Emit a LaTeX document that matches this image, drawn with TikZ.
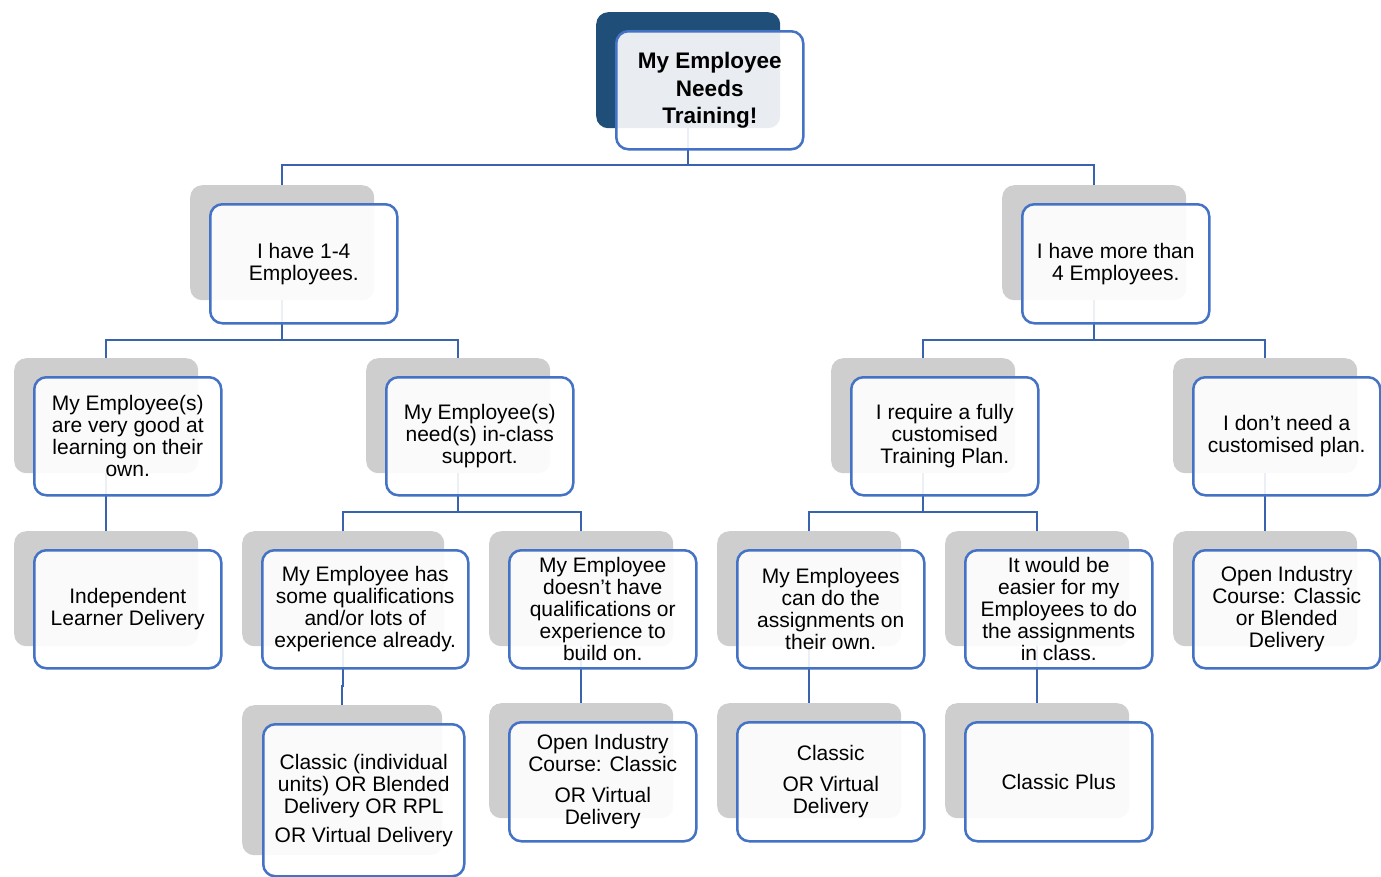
\documentclass[tikz,border=0pt]{standalone}
\usepackage{fontspec}
\setmainfont{Liberation Sans}
\definecolor{backgray}{HTML}{CFCECF}
\definecolor{rootblue}{HTML}{1F4E79}
\definecolor{frontblue}{HTML}{4472C4}
\definecolor{connblue}{HTML}{3A63AD}
\begin{document}
\begin{tikzpicture}[x=1pt,y=-1pt,
  backbox/.style={rounded corners=12pt, fill=backgray, draw=none, anchor=north west, inner sep=0pt},
  rootback/.style={backbox, fill=rootblue},
  frontbox/.style={rounded corners=12pt, draw=frontblue, line width=2.5pt, fill=white, fill opacity=0.9, text opacity=1, draw opacity=1, anchor=north west, inner sep=0pt, align=center, font=\fontsize{21}{22}\selectfont},
  rootfront/.style={frontbox, font=\fontsize{22.5}{27.5}\selectfont\bfseries},
  std/.style={minimum width=184pt, minimum height=115pt},
  stdf/.style={minimum width=187pt, minimum height=118pt},
  conn/.style={draw=connblue, line width=2.5pt}
]
\useasboundingbox (0,0) rectangle (1381,876);
\coordinate (y1) at (0,165);
\coordinate (y2) at (0,340);
\coordinate (y3) at (0,512);
\coordinate (y4) at (0,686);

% back boxes
\node[rootback, minimum width=184pt, minimum height=116pt] (rootb) at (596,12) {};
\node[backbox, std] (l1ab) at (190,185) {};
\node[backbox, std] (l1bb) at (1002,185) {};
\node[backbox, std] (ab) at (14,358) {};
\node[backbox, std] (bb) at (366,358) {};
\node[backbox, std] (cb) at (831,358) {};
\node[backbox, std] (db) at (1173,358) {};
\node[backbox, std] (indb) at (14,531) {};
\node[backbox, minimum width=202pt, minimum height=115pt] (eb) at (242,531) {};
\node[backbox, std] (fb) at (489,531) {};
\node[backbox, std] (gb) at (717,531) {};
\node[backbox, std] (hb) at (945,531) {};
\node[backbox, std] (ib) at (1173,531) {};
\node[backbox, minimum width=200pt, minimum height=150pt] (jb) at (242,705) {};
\node[backbox, std] (kb) at (489,703) {};
\node[backbox, std] (lb) at (717,703) {};
\node[backbox, std] (mb) at (945,703) {};

% connectors
\draw[conn] (rootb.south) -- (rootb.south |- y1);
\draw[conn] (l1ab.north) |- (rootb.south |- y1) -| (l1bb.north);
\draw[conn] (l1ab.south) -- (l1ab.south |- y2);
\draw[conn] (ab.north) |- (l1ab.south |- y2) -| (bb.north);
\draw[conn] (l1bb.south) -- (l1bb.south |- y2);
\draw[conn] (cb.north) |- (l1bb.south |- y2) -| (db.north);
\draw[conn] (ab.south) -- (indb.north);
\draw[conn] (bb.south) -- (bb.south |- y3);
\draw[conn] (eb.north) |- (bb.south |- y3) -| (fb.north);
\draw[conn] (cb.south) -- (cb.south |- y3);
\draw[conn] (gb.north) |- (cb.south |- y3) -| (hb.north);
\draw[conn] (db.south) -- (ib.north);
\draw[conn] (eb.south) -- (eb.south |- y4) -| (jb.north);
\draw[conn] (fb.south) -- (kb.north);
\draw[conn] (gb.south) -- (lb.north);
\draw[conn] (hb.south) -- (mb.north);

% front boxes
\node[rootfront, minimum width=187pt, minimum height=118pt] (root) at (615,30) {My Employee\\Needs\\Training!};
\node[frontbox, stdf, minimum height=119pt] (l1a) at (209,203) {I have 1-4\\Employees.};
\node[frontbox, stdf, minimum height=119pt] (l1b) at (1021,203) {I have more than\\4 Employees.};
\node[frontbox, stdf] (a) at (33,376) {My Employee(s)\\are very good at\\learning on their\\own.};
\node[frontbox, stdf] (b) at (385,376) {My Employee(s)\\need(s) in-class\\support.};
\node[frontbox, stdf] (c) at (850,376) {I require a fully\\customised\\Training Plan.};
\node[frontbox, stdf] (d) at (1192,376) {I don’t need a\\customised plan.};
\node[frontbox, stdf] (ind) at (33,549) {Independent\\Learner Delivery};
\node[frontbox, minimum width=206pt, minimum height=118pt] (e) at (261,549) {My Employee has\\some qualifications\\and/or lots of\\experience already.};
\node[frontbox, stdf] (f) at (508,549) {My Employee\\doesn’t have\\qualifications or\\experience to\\build on.};
\node[frontbox, stdf] (g) at (736,549) {My Employees\\can do the\\assignments on\\their own.};
\node[frontbox, stdf] (h) at (964,549) {It would be\\easier for my\\Employees to do\\the assignments\\in class.};
\node[frontbox, stdf] (i) at (1192,549) {Open Industry\\Course: Classic\\or Blended\\Delivery};
\node[frontbox, minimum width=201pt, minimum height=152pt] (j) at (262,723) {Classic (individual\\units) OR Blended\\Delivery OR RPL\\[7pt]OR Virtual Delivery};
\node[frontbox, stdf, minimum height=119pt] (k) at (508,721) {Open Industry\\Course: Classic\\[9pt]OR Virtual\\Delivery};
\node[frontbox, stdf, minimum height=119pt] (l) at (736,721) {Classic\\[9pt]OR Virtual\\Delivery};
\node[frontbox, stdf, minimum height=119pt] (m) at (964,721) {Classic Plus};
\end{tikzpicture}
\end{document}
